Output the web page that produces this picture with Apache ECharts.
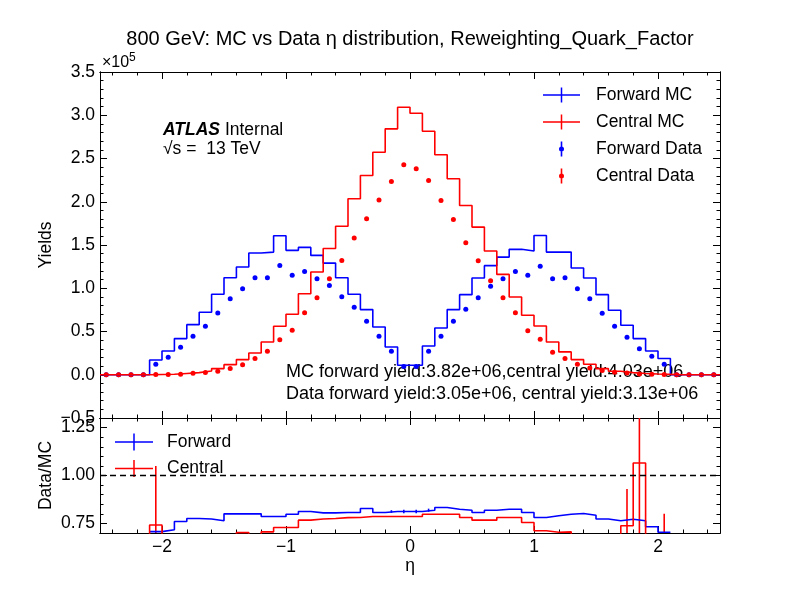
<!DOCTYPE html>
<html>
<head>
<meta charset="utf-8">
<title>eta distribution</title>
<script src="https://cdn.jsdelivr.net/npm/echarts@6/dist/echarts.min.js"></script>
<style type="text/css">
body{
	margin:0;
	background-color:#fff;
}
#chart{
	width:799px;
	height:599px;
}
</style>
</head>
<body>
<div id="chart"></div>
<script type="text/javascript">
// 50 bins of 0.1 in eta, from -2.5 to 2.5 (low edges)
var binWidth = 0.1;
var etaLow = [];
for (var i = 0; i < 50; i++) {
	etaLow.push(Math.round(-25 + i) / 10);
}

// yields per bin
var fwdMC = [0, 0, 0, 0, 17100, 27500, 41800, 57900, 72200, 93000,
	112200, 124500, 140700, 141800, 160700, 143800, 147200, 138000, 129100, 112200,
	93000, 75300, 55200, 32100, 11000, 11000, 33300, 54100, 75300, 92600,
	111800, 126100, 136000, 145000, 143000, 161000, 141800, 141800, 123400, 111800,
	92600, 74500, 57200, 41800, 27500, 18700, 0, 0, 0, 0];
var cenMC = [0, 0, 0, 0, 300, 500, 1500, 2500, 4400, 7100,
	11700, 17500, 25200, 37900, 56000, 69900, 93700, 118700, 146000, 171700,
	203500, 230400, 257300, 284300, 309200, 302300, 281500, 254300, 226600, 195700,
	170700, 143000, 116000, 89900, 68700, 56400, 37900, 26400, 17500, 12100,
	7100, 4000, 2500, 1500, 800, 400, 0, 0, 0, 0];
var fwdData = [0, 0, 0, 0, 12100, 20200, 31800, 44500, 56000, 71400,
	88000, 99500, 112200, 112200, 126400, 114900, 119500, 111000, 103300, 90300,
	77900, 61800, 44500, 27100, 9500, 9500, 27100, 44500, 61800, 75600,
	89100, 102200, 111000, 119500, 114900, 125300, 111000, 112200, 99500, 88000,
	71000, 56000, 43300, 30200, 21400, 12100, 0, 0, 0, 0];
var cenData = [0, 0, 0, 0, 200, 400, 700, 1700, 2500, 4000,
	7100, 11700, 18700, 27100, 40600, 51400, 71800, 89100, 111000, 132200,
	158000, 180300, 201900, 223400, 242700, 238100, 224600, 201500, 179500, 152600,
	131800, 108700, 89100, 71800, 51000, 41000, 26000, 18700, 12100, 7900,
	5000, 3000, 2000, 1000, 500, 300, 0, 0, 0, 0];

// Data/MC ratio per bin (null where MC is empty)
var fwdRatio = [null, null, null, null, 0.707, 0.717, 0.760, 0.776, 0.773, 0.764,
	0.800, 0.800, 0.800, 0.786, 0.786, 0.798, 0.812, 0.805, 0.805, 0.807,
	0.807, 0.828, 0.807, 0.812, 0.812, 0.812, 0.819, 0.833, 0.824, 0.819,
	0.807, 0.819, 0.824, 0.824, 0.807, 0.781, 0.790, 0.798, 0.802, 0.793,
	0.773, 0.764, 0.772, 0.764, 0.733, 0.704, null, null, null, null];
var cenRatio = [0, 0, 0, 0, 0.742, 0.60, 0.60, 0.60, 0.62, 0.63,
	0.64, 0.702, 0.69, 0.706, 0.729, 0.729, 0.767, 0.773, 0.776, 0.780,
	0.781, 0.786, 0.786, 0.786, 0.786, 0.786, 0.798, 0.798, 0.798, 0.781,
	0.767, 0.767, 0.781, 0.781, 0.755, 0.712, 0.704, 0.706, 0.69, 0.65,
	0.62, 0.62, 0.738, 1.065, 0.60, 0.55, 0, 0, 0, 0];
// visible error bars on the ratio: [eta, low, high]
var fwdRatioErr = [[-0.15, 0.805, 0.819], [-0.05, 0.803, 0.821], [0.05, 0.803, 0.821], [0.15, 0.811, 0.827]];
var cenRatioErr = [[-2.05, 0.43, 1.05], [1.75, 0.55, 0.93], [1.85, 0.63, 1.5], [2.05, 0.30, 0.80]];

var titleText = '800 GeV: MC vs Data \u03b7 distribution, Reweighting_Quark_Factor';
var mcYieldText = 'MC forward yield:3.82e+06,central yield:4.03e+06';
var dataYieldText = 'Data forward yield:3.05e+06, central yield:3.13e+06';

var BLUE = '#0000ff';
var RED = '#ff0000';
var FONT = '"Liberation Sans", Arial, sans-serif';

function stepData(vals) {
	var pts = [];
	for (var i = 0; i < vals.length; i++) {
		pts.push([etaLow[i], vals[i]]);
	}
	pts.push([etaLow[vals.length - 1] + binWidth, vals[vals.length - 1]]);
	return pts;
}
function centerData(vals) {
	var pts = [];
	for (var i = 0; i < vals.length; i++) {
		pts.push([etaLow[i] + binWidth / 2, vals[i]]);
	}
	return pts;
}
function minus(s) {
	return String(s).replace('-', '\u2212');
}

// tick positions
var xMajor = [-2, -1, 0, 1, 2];
var xMinor = [];
for (var k = -12; k <= 12; k++) { if (k % 5 !== 0) xMinor.push(k / 5); }
var yTopMajor = [];
for (k = -1; k <= 7; k++) yTopMajor.push(k * 50000);
var yTopMinor = [];
for (k = -5; k <= 35; k++) { if (k % 5 !== 0) yTopMinor.push(k * 10000); }
var yBotMajor = [0.75, 1.0, 1.25];
var yBotMinor = [];
for (k = 14; k <= 26; k++) { if (k % 5 !== 0) yBotMinor.push(k / 20); }

function axis(grid, pos, min, max, ticks, len, labels, fmt, name, gap) {
	return {
		type: 'value', gridIndex: grid, position: pos, min: min, max: max,
		axisLine: {show: true, onZero: false, lineStyle: {color: '#000', width: 1}},
		axisTick: {show: true, inside: true, length: len, customValues: ticks, lineStyle: {color: '#000', width: 1}},
		axisLabel: {show: !!labels, customValues: labels || undefined, formatter: fmt,
			color: '#000', fontSize: 17.5, fontFamily: FONT, margin: 5},
		splitLine: {show: false},
		name: name || '', nameLocation: 'middle', nameGap: gap || 0, nameMoveOverlap: false,
		nameTextStyle: {color: '#000', fontSize: 17.5, fontFamily: FONT}
	};
}

var xAxes = [
	axis(0, 'bottom', -2.5, 2.5, xMajor, 7),
	axis(0, 'bottom', -2.5, 2.5, xMinor, 3.5),
	axis(0, 'top', -2.5, 2.5, xMajor, 7),
	axis(0, 'top', -2.5, 2.5, xMinor, 3.5),
	axis(1, 'bottom', -2.5, 2.5, xMajor, 7, xMajor, function (v) { return minus(v); }, '\u03b7', 24),
	axis(1, 'bottom', -2.5, 2.5, xMinor, 3.5),
	axis(1, 'top', -2.5, 2.5, xMajor, 7),
	axis(1, 'top', -2.5, 2.5, xMinor, 3.5)
];
var yAxes = [
	axis(0, 'left', -50000, 350000, yTopMajor, 7, yTopMajor, function (v) { return minus((v / 1e5).toFixed(1)); }, 'Yields', 45),
	axis(0, 'left', -50000, 350000, yTopMinor, 3.5),
	axis(0, 'right', -50000, 350000, yTopMajor, 7),
	axis(0, 'right', -50000, 350000, yTopMinor, 3.5),
	axis(1, 'left', 0.7, 1.3, yBotMajor, 7, yBotMajor, function (v) { return v.toFixed(2); }, 'Data/MC', 45),
	axis(1, 'left', 0.7, 1.3, yBotMinor, 3.5),
	axis(1, 'right', 0.7, 1.3, yBotMajor, 7),
	axis(1, 'right', 0.7, 1.3, yBotMinor, 3.5)
];

function errBars(name, color, pts) {
	return {
		type: 'custom', name: name, xAxisIndex: 4, yAxisIndex: 4, clip: true, silent: true,
		encode: {x: 0, y: [1, 2]},
		renderItem: function (params, api) {
			var a = api.coord([api.value(0), api.value(1)]);
			var b = api.coord([api.value(0), api.value(2)]);
			return {type: 'line', shape: {x1: a[0], y1: a[1], x2: b[0], y2: b[1]},
				style: {stroke: color, lineWidth: 1.6}};
		},
		data: pts
	};
}

var crossIcon = 'path://M0,6.75h37v1.5h-37z M17.75,0h1.5v15h-1.5z';
var crossIcon2 = 'path://M0,7.75h38v1.5h-38z M18.25,0h1.5v17h-1.5z';
var dotIcon = 'path://M2,0h1.6v15h-1.6z M0.3,7.5a2.5,2.5 0 1,1 5,0a2.5,2.5 0 1,1 -5,0z';

var chart = echarts.init(document.getElementById('chart'));
var option = {
	animation: false,
	backgroundColor: '#fff',
	textStyle: {fontFamily: FONT},
	title: {
		text: titleText, left: 410, top: 29, padding: 0, textAlign: 'center',
		textStyle: {fontSize: 20, fontWeight: 'normal', color: '#000', fontFamily: FONT}
	},
	grid: [
		{left: 100, right: 79, top: 72, height: 346, outerBoundsMode: 'none'},
		{left: 100, right: 79, top: 418, height: 115, outerBoundsMode: 'none'}
	],
	xAxis: xAxes,
	yAxis: yAxes,
	legend: [{
		orient: 'vertical', left: 543, top: 85, padding: 0, itemWidth: 37, itemHeight: 15, itemGap: 7,
		selectedMode: false,
		textStyle: {fontSize: 17.5, color: '#000', lineHeight: 20, padding: [0, 0, 0, 11], fontFamily: FONT},
		data: [
			{name: 'Forward MC', icon: crossIcon, itemStyle: {color: BLUE, borderWidth: 0}},
			{name: 'Central MC', icon: crossIcon, itemStyle: {color: RED, borderWidth: 0}},
			{name: 'Forward Data', icon: dotIcon, itemStyle: {color: BLUE, borderWidth: 0}},
			{name: 'Central Data', icon: dotIcon, itemStyle: {color: RED, borderWidth: 0}}
		]
	}, {
		orient: 'vertical', left: 115, top: 432, padding: 0, itemWidth: 38, itemHeight: 17, itemGap: 6.5,
		selectedMode: false,
		textStyle: {fontSize: 17.5, color: '#000', lineHeight: 20, padding: [0, 0, 0, 9], fontFamily: FONT},
		data: [
			{name: 'Forward', icon: crossIcon2, itemStyle: {color: BLUE, borderWidth: 0}},
			{name: 'Central', icon: crossIcon2, itemStyle: {color: RED, borderWidth: 0}}
		]
	}],
	graphic: [
		{type: 'text', left: 102, top: 55, style: {text: '\u00d710', fontSize: 16, fill: '#000', fontFamily: FONT}},
		{type: 'text', left: 129, top: 52, style: {text: '5', fontSize: 12, fill: '#000', fontFamily: FONT}},
		{type: 'text', left: 163, top: 121, style: {
			text: '{b|ATLAS} Internal', fontSize: 17.5, fill: '#000', fontFamily: FONT,
			rich: {b: {fontSize: 17.5, fontWeight: 'bold', fontStyle: 'italic', fontFamily: FONT}}
		}},
		{type: 'text', left: 163, top: 140, style: {text: '\u221as =  13 TeV', fontSize: 17.5, fill: '#000', fontFamily: FONT}},
		{type: 'text', left: 286, top: 363, style: {text: mcYieldText, fontSize: 18, fill: '#000', fontFamily: FONT}},
		{type: 'text', left: 286, top: 385, style: {text: dataYieldText, fontSize: 18, fill: '#000', fontFamily: FONT}}
	],
	series: [{
		name: 'Forward MC', type: 'line', step: 'end', xAxisIndex: 0, yAxisIndex: 0,
		showSymbol: false, color: BLUE, lineStyle: {color: BLUE, width: 1.6},
		data: stepData(fwdMC)
	}, {
		name: 'Central MC', type: 'line', step: 'end', xAxisIndex: 0, yAxisIndex: 0,
		showSymbol: false, color: RED, lineStyle: {color: RED, width: 1.6},
		data: stepData(cenMC)
	}, {
		name: 'Forward Data', type: 'scatter', xAxisIndex: 0, yAxisIndex: 0,
		symbolSize: 5, itemStyle: {color: BLUE, opacity: 1},
		data: centerData(fwdData)
	}, {
		name: 'Central Data', type: 'scatter', xAxisIndex: 0, yAxisIndex: 0,
		symbolSize: 5, itemStyle: {color: RED, opacity: 1},
		data: centerData(cenData)
	}, {
		name: 'Forward', type: 'line', step: 'end', xAxisIndex: 4, yAxisIndex: 4,
		showSymbol: false, color: BLUE, lineStyle: {color: BLUE, width: 1.6},
		data: stepData(fwdRatio),
		markLine: {
			silent: true, symbol: 'none', label: {show: false},
			lineStyle: {color: '#000', type: [6, 4], width: 1.4},
			data: [{yAxis: 1}]
		}
	}, {
		name: 'Central', type: 'line', step: 'end', xAxisIndex: 4, yAxisIndex: 4,
		showSymbol: false, color: RED, lineStyle: {color: RED, width: 1.6},
		data: stepData(cenRatio)
	},
	errBars('Forward err', BLUE, fwdRatioErr),
	errBars('Central err', RED, cenRatioErr)]
};
chart.setOption(option);
</script>
</body>
</html>
